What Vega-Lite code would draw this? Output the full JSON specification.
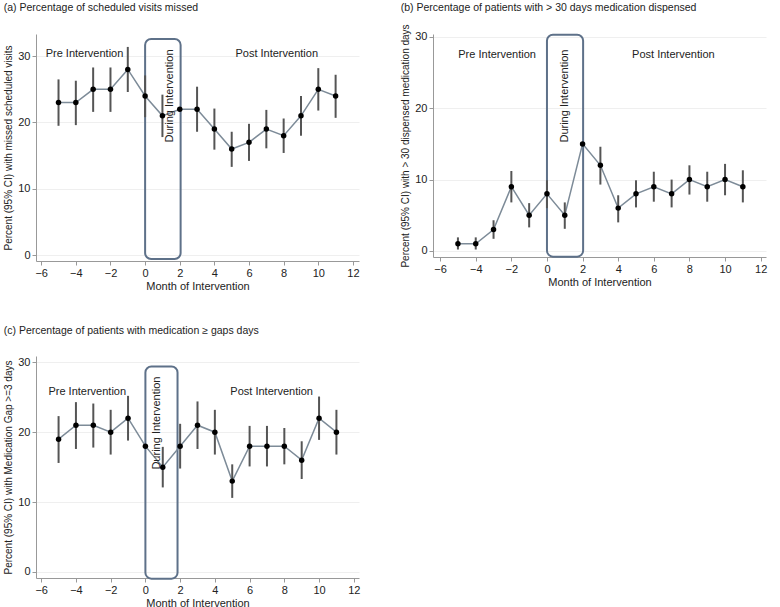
{
  "$schema": "https://vega.github.io/schema/vega-lite/v6.json",
  "background": "white",
  "padding": {"left": 3, "top": 2, "right": 5, "bottom": 0},
  "config": {
    "font": "Liberation Sans",
    "view": {"stroke": null},
    "title": {"fontSize": 10.5, "fontWeight": "normal", "anchor": "start", "frame": "bounds", "color": "#222"},
    "axis": {"labelFontSize": 11, "titleFontSize": 11, "titleFontWeight": "normal", "labelColor": "#222", "titleColor": "#222", "domainColor": "#999", "tickColor": "#999", "gridColor": "#efefef", "tickSize": 4, "labelPadding": 2, "labelOverlap": false, "labelFlush": false},
    "axisX": {"titlePadding": 2},
    "axisY": {"titleFontSize": 10, "titlePadding": 4}
  },
  "datasets": {
    "a": [
      {"month": -5, "pct": 23, "lo": 19.5, "hi": 26.5},
      {"month": -4, "pct": 23, "lo": 19.6, "hi": 26.3},
      {"month": -3, "pct": 25, "lo": 21.6, "hi": 28.3},
      {"month": -2, "pct": 25, "lo": 21.6, "hi": 28.3},
      {"month": -1, "pct": 28, "lo": 24.6, "hi": 31.4},
      {"month": 0, "pct": 24, "lo": 20.8, "hi": 27.1},
      {"month": 1, "pct": 21, "lo": 17.8, "hi": 24.2},
      {"month": 2, "pct": 22},
      {"month": 3, "pct": 22, "lo": 18.6, "hi": 25.4},
      {"month": 4, "pct": 19, "lo": 15.9, "hi": 22.1},
      {"month": 5, "pct": 16, "lo": 13.3, "hi": 18.6},
      {"month": 6, "pct": 17, "lo": 14.2, "hi": 19.8},
      {"month": 7, "pct": 19, "lo": 16.1, "hi": 21.9},
      {"month": 8, "pct": 18, "lo": 15.4, "hi": 20.6},
      {"month": 9, "pct": 21, "lo": 18.0, "hi": 24.0},
      {"month": 10, "pct": 25, "lo": 21.8, "hi": 28.2},
      {"month": 11, "pct": 24, "lo": 20.7, "hi": 27.2}
    ],
    "b": [
      {"month": -5, "pct": 1, "lo": 0.2, "hi": 1.9},
      {"month": -4, "pct": 1, "lo": 0.2, "hi": 1.9},
      {"month": -3, "pct": 3, "lo": 1.7, "hi": 4.3},
      {"month": -2, "pct": 9, "lo": 6.8, "hi": 11.2},
      {"month": -1, "pct": 5, "lo": 3.3, "hi": 6.7},
      {"month": 0, "pct": 8, "lo": 6.0, "hi": 9.9},
      {"month": 1, "pct": 5, "lo": 3.1, "hi": 6.8},
      {"month": 2, "pct": 15},
      {"month": 3, "pct": 12, "lo": 9.3, "hi": 14.6},
      {"month": 4, "pct": 6, "lo": 4.0, "hi": 7.8},
      {"month": 5, "pct": 8, "lo": 6.1, "hi": 9.9},
      {"month": 6, "pct": 9, "lo": 6.9, "hi": 11.1},
      {"month": 7, "pct": 8, "lo": 6.1, "hi": 10.0},
      {"month": 8, "pct": 10, "lo": 7.9, "hi": 12.0},
      {"month": 9, "pct": 9, "lo": 6.9, "hi": 11.1},
      {"month": 10, "pct": 10, "lo": 7.8, "hi": 12.2},
      {"month": 11, "pct": 9, "lo": 6.8, "hi": 11.3}
    ],
    "c": [
      {"month": -5, "pct": 19, "lo": 15.6, "hi": 22.3},
      {"month": -4, "pct": 21, "lo": 17.6, "hi": 24.3},
      {"month": -3, "pct": 21, "lo": 17.8, "hi": 24.1},
      {"month": -2, "pct": 20, "lo": 16.8, "hi": 23.2},
      {"month": -1, "pct": 22, "lo": 18.8, "hi": 25.2},
      {"month": 0, "pct": 18},
      {"month": 1, "pct": 15, "lo": 12.1, "hi": 17.9},
      {"month": 2, "pct": 18, "lo": 14.8, "hi": 21.2},
      {"month": 3, "pct": 21, "lo": 17.6, "hi": 24.4},
      {"month": 4, "pct": 20, "lo": 16.8, "hi": 23.2},
      {"month": 5, "pct": 13, "lo": 10.6, "hi": 15.4},
      {"month": 6, "pct": 18, "lo": 15.1, "hi": 20.9},
      {"month": 7, "pct": 18, "lo": 15.1, "hi": 20.9},
      {"month": 8, "pct": 18, "lo": 15.4, "hi": 20.6},
      {"month": 9, "pct": 16, "lo": 13.3, "hi": 18.7},
      {"month": 10, "pct": 22, "lo": 18.9, "hi": 25.1},
      {"month": 11, "pct": 20, "lo": 16.8, "hi": 23.2}
    ],
    "boxA": [{"month": 0, "month2": 2.05, "pct": -0.6, "pct2": 32.6}],
    "boxB": [{"month": 0, "month2": 2.03, "pct": -0.8, "pct2": 30.3}],
    "boxC": [{"month": 0, "month2": 1.85, "pct": -0.95, "pct2": 29.4}],
    "labA": [
      {"label": "Pre Intervention", "month": -3.5, "pct": 30.3},
      {"label": "Post Intervention", "month": 7.6, "pct": 30.3}
    ],
    "labB": [
      {"label": "Pre Intervention", "month": -2.8, "pct": 27.5},
      {"label": "Post Intervention", "month": 7.1, "pct": 27.5}
    ],
    "labC": [
      {"label": "Pre Intervention", "month": -3.35, "pct": 25.8},
      {"label": "Post Intervention", "month": 7.27, "pct": 25.8}
    ],
    "durA": [{"label": "During Intervention", "month": 1.45, "pct": 24}],
    "durB": [{"label": "During Intervention", "month": 1.0, "pct": 21.7}],
    "durC": [{"label": "During Intervention", "month": 0.69, "pct": 21.3}]
  },
  "spacing": 34,
  "vconcat": [
    {
      "spacing": 40,
      "hconcat": [
        {
          "width": 323, "height": 227,
          "title": {"text": "(a) Percentage of scheduled visits missed", "offset": 21},
          "encoding": {
            "x": {"field": "month", "type": "quantitative", "scale": {"domain": [-6.3, 12.35], "nice": false}, "axis": {"values": [-6, -4, -2, 0, 2, 4, 6, 8, 10, 12], "labelOverlap": false, "labelSeparation": 0, "grid": false, "title": "Month of Intervention"}},
            "y": {"field": "pct", "type": "quantitative", "scale": {"domain": [-0.9, 33.35], "nice": false, "zero": false}, "axis": {"values": [0, 10, 20, 30], "labelOverlap": false, "title": "Percent (95% CI) with missed scheduled visits"}}
          },
          "layer": [
            {"data": {"name": "boxA"}, "mark": {"type": "rect", "fill": null, "stroke": "#5e7189", "strokeWidth": 2, "cornerRadius": 6},
             "encoding": {"x2": {"field": "month2"}, "y2": {"field": "pct2"}}},
            {"data": {"name": "a"}, "mark": {"type": "line", "color": "#7d8b98", "strokeWidth": 1.5}, "encoding": {}},
            {"data": {"name": "a"}, "transform": [{"filter": "isValid(datum.lo)"}], "mark": {"type": "rule", "color": "#555", "strokeWidth": 2},
             "encoding": {"y": {"field": "lo", "type": "quantitative"}, "y2": {"field": "hi"}}},
            {"data": {"name": "a"}, "mark": {"type": "point", "filled": true, "color": "black", "size": 30, "opacity": 1}},
            {"data": {"name": "labA"}, "mark": {"type": "text", "fontSize": 11, "color": "#222"}, "encoding": {"text": {"field": "label"}}},
            {"data": {"name": "durA"}, "mark": {"type": "text", "fontSize": 11, "color": "#222", "angle": 270}, "encoding": {"text": {"field": "label"}}}
          ]
        },
        {
          "width": 333, "height": 223,
          "title": {"text": "(b) Percentage of patients with > 30 days medication dispensed", "offset": 10},
          "encoding": {
            "x": {"field": "month", "type": "quantitative", "scale": {"domain": [-6.4, 12.3], "nice": false}, "axis": {"values": [-6, -4, -2, 0, 2, 4, 6, 8, 10, 12], "labelOverlap": false, "labelSeparation": 0, "grid": false, "title": "Month of Intervention"}},
            "y": {"field": "pct", "type": "quantitative", "scale": {"domain": [-0.85, 30.4], "nice": false, "zero": false}, "axis": {"values": [0, 10, 20, 30], "labelOverlap": false, "title": "Percent (95% CI) with > 30 dispensed medication days"}}
          },
          "layer": [
            {"data": {"name": "boxB"}, "mark": {"type": "rect", "fill": null, "stroke": "#5e7189", "strokeWidth": 2, "cornerRadius": 6},
             "encoding": {"x2": {"field": "month2"}, "y2": {"field": "pct2"}}},
            {"data": {"name": "b"}, "mark": {"type": "line", "color": "#7d8b98", "strokeWidth": 1.5}, "encoding": {}},
            {"data": {"name": "b"}, "transform": [{"filter": "isValid(datum.lo)"}], "mark": {"type": "rule", "color": "#555", "strokeWidth": 2},
             "encoding": {"y": {"field": "lo", "type": "quantitative"}, "y2": {"field": "hi"}}},
            {"data": {"name": "b"}, "mark": {"type": "point", "filled": true, "color": "black", "size": 30, "opacity": 1}},
            {"data": {"name": "labB"}, "mark": {"type": "text", "fontSize": 11, "color": "#222"}, "encoding": {"text": {"field": "label"}}},
            {"data": {"name": "durB"}, "mark": {"type": "text", "fontSize": 11, "color": "#222", "angle": 270}, "encoding": {"text": {"field": "label"}}}
          ]
        }
      ]
    },
    {
      "width": 323, "height": 222,
      "title": {"text": "(c) Percentage of patients with medication ≥ gaps days", "offset": 20},
      "encoding": {
        "x": {"field": "month", "type": "quantitative", "scale": {"domain": [-6.3, 12.3], "nice": false}, "axis": {"values": [-6, -4, -2, 0, 2, 4, 6, 8, 10, 12], "labelOverlap": false, "labelSeparation": 0, "grid": false, "title": "Month of Intervention"}},
        "y": {"field": "pct", "type": "quantitative", "scale": {"domain": [-0.86, 30.9], "nice": false, "zero": false}, "axis": {"values": [0, 10, 20, 30], "labelOverlap": false, "title": "Percent (95% CI) with Medication Gap >=3 days"}}
      },
      "layer": [
        {"data": {"name": "boxC"}, "mark": {"type": "rect", "fill": null, "stroke": "#5e7189", "strokeWidth": 2, "cornerRadius": 6},
         "encoding": {"x2": {"field": "month2"}, "y2": {"field": "pct2"}}},
        {"data": {"name": "c"}, "mark": {"type": "line", "color": "#7d8b98", "strokeWidth": 1.5}, "encoding": {}},
        {"data": {"name": "c"}, "transform": [{"filter": "isValid(datum.lo)"}], "mark": {"type": "rule", "color": "#555", "strokeWidth": 2},
         "encoding": {"y": {"field": "lo", "type": "quantitative"}, "y2": {"field": "hi"}}},
        {"data": {"name": "c"}, "mark": {"type": "point", "filled": true, "color": "black", "size": 30, "opacity": 1}},
        {"data": {"name": "labC"}, "mark": {"type": "text", "fontSize": 11, "color": "#222"}, "encoding": {"text": {"field": "label"}}},
        {"data": {"name": "durC"}, "mark": {"type": "text", "fontSize": 11, "color": "#222", "angle": 270}, "encoding": {"text": {"field": "label"}}}
      ]
    }
  ]
}
